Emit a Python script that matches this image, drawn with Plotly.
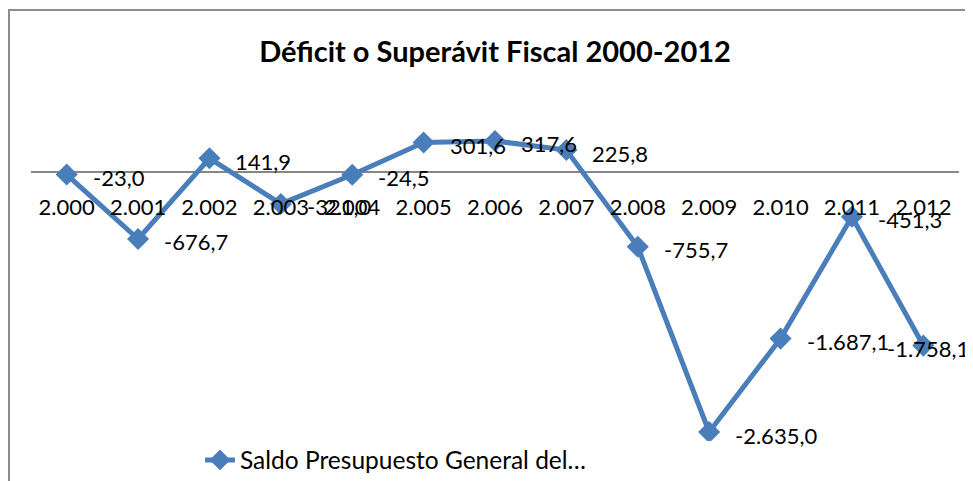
import plotly.graph_objects as go

categories = ["2.000", "2.001", "2.002", "2.003", "2.004", "2.005", "2.006",
              "2.007", "2.008", "2.009", "2.010", "2.011", "2.012"]
values = [-23.0, -676.7, 141.9, -321.0, -24.5, 301.6, 317.6,
          225.8, -755.7, -2635.0, -1687.1, -451.3, -1758.1]
series_name = "Saldo Presupuesto General del…"
title_text = "Déficit o Superávit Fiscal 2000-2012"

BLUE = "#4A7EBB"
FONT = "Lato, Carlito, Calibri, sans-serif"

# page body has an 8px margin; targets are shifted accordingly
OFF = 8
W, H = 973, 481
ML, MR, MT = 31 - OFF, 973 - (959 - OFF), 123 - OFF
PLOT_BOTTOM = 441 - OFF
MB = H - PLOT_BOTTOM
PW, PH = W - ML - MR, H - MT - MB
Y_TOP = 500.0
Y_BOT = Y_TOP - PH / 0.09857

def fmt(v):
    s = f"{v:,.1f}"
    return s.replace(",", "X").replace(".", ",").replace("X", ".")

fig = go.Figure()
fig.add_trace(go.Scatter(
    x=categories, y=values, mode="lines+markers", name=series_name,
    line=dict(color=BLUE, width=5),
    marker=dict(symbol="diamond", size=17, color=BLUE),
))

annotations = []
n = len(values)
for i, v in enumerate(values):
    last = i == n - 1
    annotations.append(dict(
        x=i, y=v, xref="x", yref="y", text=fmt(v), showarrow=False,
        xanchor="right" if last else "left", yanchor="middle",
        xshift=48 if last else 24, yshift=-3,
        font=dict(family=FONT, size=22, color="#000000"),
    ))

fig.update_layout(
    width=W, height=H,
    margin=dict(l=ML, r=MR, t=MT, b=MB, autoexpand=False),
    paper_bgcolor="white", plot_bgcolor="rgba(0,0,0,0)",
    title=dict(text=f"<b>{title_text}</b>", x=0.5, xref="paper", xanchor="center",
               y=1 - (52 - OFF) / H, yref="container", yanchor="middle",
               font=dict(family=FONT, size=29, color="#000000")),
    showlegend=True,
    legend=dict(orientation="h", x=(196 - OFF + 4 - ML) / PW, xanchor="left",
                y=(PLOT_BOTTOM - (460 - OFF)) / PH, yanchor="middle",
                font=dict(family=FONT, size=24.5, color="#000000"),
                bgcolor="rgba(0,0,0,0)", itemwidth=30),
    xaxis=dict(type="category", anchor="free", position=(0 - Y_BOT) / (Y_TOP - Y_BOT),
               side="bottom", automargin=False,
               showline=False, showgrid=False, zeroline=False,
               ticks="outside", ticklen=15, tickcolor="rgba(0,0,0,0)",
               tickfont=dict(family=FONT, size=22, color="#000000"),
               range=[-0.5, 12.5]),
    yaxis=dict(range=[Y_BOT, Y_TOP], showticklabels=False, showgrid=False,
               automargin=False,
               zeroline=True, zerolinecolor="#868686", zerolinewidth=2,
               showline=False, ticks=""),
    annotations=annotations,
    shapes=[dict(type="rect", xref="paper", yref="paper",
                 x0=(9 - OFF - ML) / PW, x1=(990 - ML) / PW,
                 y0=(PLOT_BOTTOM - 500) / PH, y1=(PLOT_BOTTOM - (10 - OFF)) / PH,
                 line=dict(color="#8c8c8c", width=2), fillcolor="rgba(0,0,0,0)",
                 layer="below")],
)

fig.write_html("out.html")
